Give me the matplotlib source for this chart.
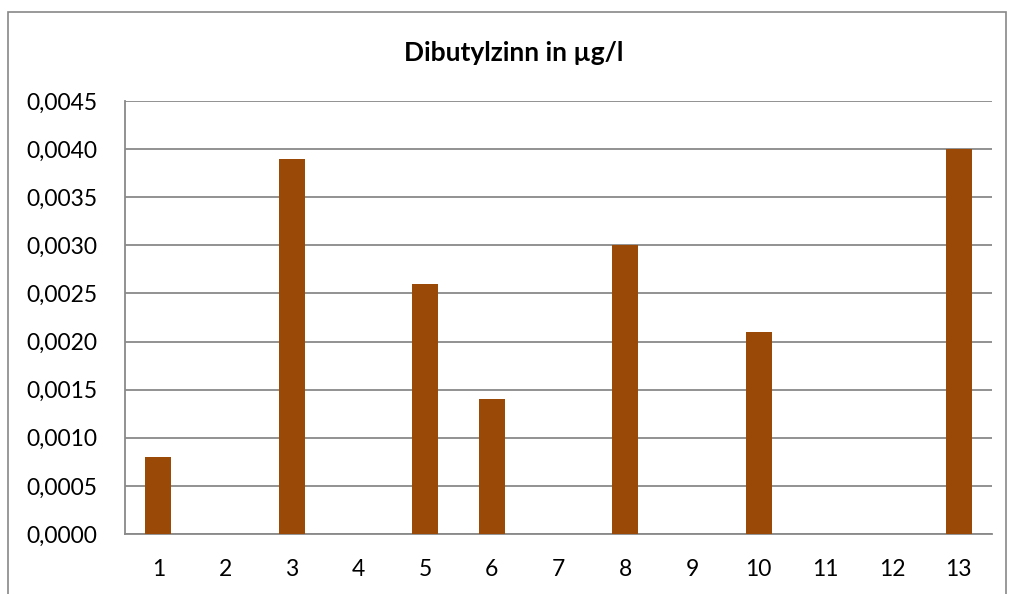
import matplotlib.pyplot as plt
from matplotlib.patches import Rectangle
from matplotlib.ticker import FuncFormatter

plt.rcParams['font.family'] = ['Lato', 'DejaVu Sans']

# Data
samples = ['1', '2', '3', '4', '5', '6', '7', '8', '9', '10', '11', '12', '13']
dbt = [0.0008, 0, 0.0039, 0, 0.0026, 0.0014, 0, 0.0030, 0, 0.0021, 0, 0, 0.0040]

W, H = 1009, 594
fig = plt.figure(figsize=(W / 100, H / 100), dpi=100)

# outer chart frame (bottom runs off the image)
fig.patches.append(Rectangle((8 / W, -0.05), (1006 - 8) / W, 1.05 - 12 / H,
                             transform=fig.transFigure, fill=False,
                             edgecolor='#878787', linewidth=1.2))

ax = fig.add_axes([125 / W, 1 - 534 / H, (992 - 125) / W, (534 - 101) / H])
x = range(len(samples))
ax.bar(x, dbt, width=0.39, color='#9A4A06', zorder=3)

ax.set_xlim(-0.5, len(samples) - 0.5)
ax.set_ylim(0, 0.0045)
ax.set_yticks([i * 0.0005 for i in range(10)])
ax.yaxis.set_major_formatter(FuncFormatter(lambda v, p: f'{v:.4f}'.replace('.', ',')))
ax.set_xticks(list(x))
ax.set_xticklabels(samples)
ax.grid(axis='y', color='#898989', linewidth=1.3, zorder=0)
ax.tick_params(length=0, labelsize=16.5, colors='black')
ax.tick_params(axis='y', pad=20)
ax.tick_params(axis='x', pad=18)
for s in ['top', 'right']:
    ax.spines[s].set_visible(False)
for s in ['left', 'bottom']:
    ax.spines[s].set_color('#898989')
    ax.spines[s].set_linewidth(1.3)

fig.text(514 / W, 1 - 53 / H, 'Dibutylzinn in µg/l', ha='center', va='center',
         fontsize=19, fontweight='bold')

fig.savefig('out.png', dpi=100)
